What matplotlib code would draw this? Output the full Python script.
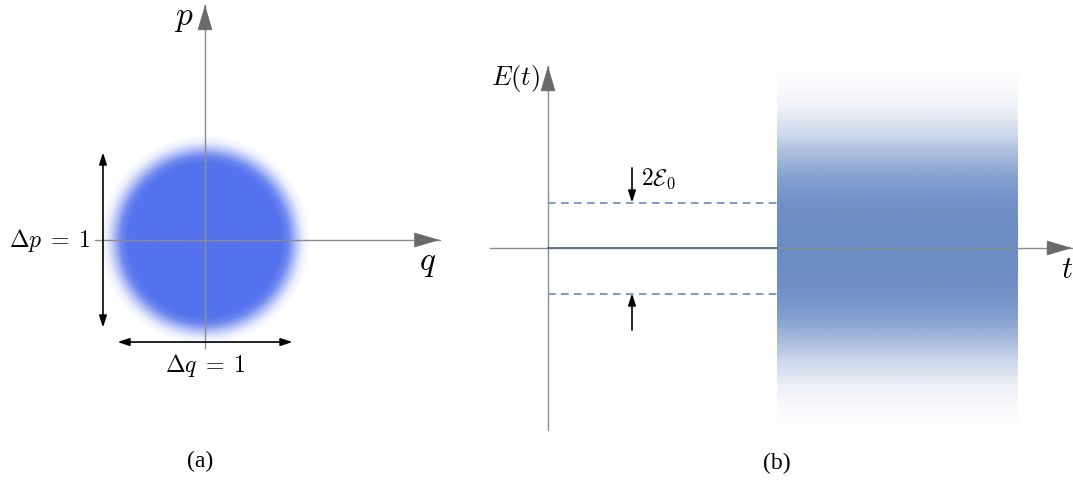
import numpy as np
import matplotlib.pyplot as plt
from matplotlib.patches import FancyArrowPatch
from matplotlib.colors import to_rgb

plt.rcParams['mathtext.fontset'] = 'cm'

# (a) coherent state blob, lengths in units of delta q = 1
delta_q = 1.0
delta_p = 1.0
disk_radius = [0.0, 0.44, 0.48, 0.52, 0.56, 0.60]
disk_alpha = [1.0, 1.0, 0.85, 0.45, 0.12, 0.0]

# (b) energy vs time, energies in units of E0
e0 = 1.0
t_quiet = [0.0, 2.29]
t_noise = [2.29, 4.70]
noise_E = [-4.0, -3.5, -3.0, -2.5, -2.0, -1.5, -1.0, -0.5, 0.0,
           0.5, 1.0, 1.5, 2.0, 2.5, 3.0, 3.5, 4.0]
noise_density = [0.0, 0.04, 0.12, 0.30, 0.55, 0.76, 0.86, 0.89, 0.90,
                 0.89, 0.86, 0.76, 0.55, 0.30, 0.12, 0.04, 0.0]

axis_grey = '#8c8c8c'
head_grey = '#6a6a6a'
blob_blue = '#5573ee'
dot_blue = '#5a7fbd'


def axis_arrow(ax, start, tip, back):
    ax.plot([start[0], tip[0]], [start[1], tip[1]], color=axis_grey, lw=1.0, zorder=3)
    ax.add_patch(FancyArrowPatch(back, tip, arrowstyle='-|>,head_length=17,head_width=5',
                                 mutation_scale=1, color=head_grey, lw=0.5,
                                 shrinkA=0, shrinkB=0, zorder=4))


def both_arrow(ax, a, b):
    ax.add_patch(FancyArrowPatch(a, b, arrowstyle='<|-|>,head_length=7,head_width=2.3',
                                 mutation_scale=1, color='black', lw=1.2,
                                 shrinkA=0, shrinkB=0, zorder=4))


def one_arrow(ax, a, b):
    ax.add_patch(FancyArrowPatch(a, b, arrowstyle='-|>,head_length=7,head_width=2.3',
                                 mutation_scale=1, color='black', lw=1.2,
                                 shrinkA=0, shrinkB=0, zorder=4))


fig = plt.figure(figsize=(10.73, 4.82), dpi=100)
ax_a = fig.add_axes([0, 0, 450 / 1073, 1])
ax_b = fig.add_axes([450 / 1073, 0, 623 / 1073, 1])

# ---- (a)
ax_a.set_xlim(-205 / 175, 245 / 175)
ax_a.set_ylim(-242 / 175, 240 / 175)
ax_a.axis('off')

g = np.linspace(-0.65, 0.65, 400)
qq, pp = np.meshgrid(g, g)
img = np.zeros(qq.shape + (4,))
img[..., :3] = to_rgb(blob_blue)
img[..., 3] = np.interp(np.hypot(qq, pp), disk_radius, disk_alpha)
ax_a.imshow(img, extent=(-0.65, 0.65, -0.65, 0.65), origin='lower',
            interpolation='bilinear', zorder=1)

axis_arrow(ax_a, (-0.63, 0), (1.34, 0), (1.20, 0))
axis_arrow(ax_a, (0, -0.617), (0, 1.343), (0, 1.20))
both_arrow(ax_a, (-0.583, -delta_p / 2), (-0.583, delta_p / 2))
both_arrow(ax_a, (-delta_q / 2, -0.583), (delta_q / 2, -0.583))

ax_a.text(-0.655, 0, r'$\Delta p\;=\;1$', ha='right', va='center', fontsize=17)
ax_a.text(0, -0.718, r'$\Delta q\;=\;1$', ha='center', va='center', fontsize=17)
ax_a.text(-0.12, 1.27, r'$p$', ha='center', va='center', fontsize=24)
ax_a.text(1.27, -0.13, r'$q$', ha='center', va='center', fontsize=24)
ax_a.text(-0.03, -1.268, '(a)', ha='center', va='center', fontsize=17,
          family='Liberation Serif')

# ---- (b)
ax_b.set_xlim(-0.98, 5.25)
ax_b.set_ylim(-234 / 45.5, 248 / 45.5)
ax_b.axis('off')

col = np.zeros((len(noise_E), 1, 4))
col[..., :3] = to_rgb(dot_blue)
col[:, 0, 3] = noise_density
ax_b.imshow(col, extent=(t_noise[0], t_noise[1], noise_E[0] - 0.25, noise_E[-1] + 0.25),
            origin='lower', aspect='auto', interpolation='bilinear', zorder=1)

axis_arrow(ax_b, (-0.58, 0), (5.24, 0), (4.99, 0))
axis_arrow(ax_b, (0, -4.0), (0, 4.0), (0, 3.45))

ax_b.plot(t_quiet, [0, 0], color='#566c90', lw=1.3, zorder=5)
for lvl in (e0, -e0):
    ax_b.plot(t_quiet, [lvl, lvl], color=dot_blue, lw=1.1, ls=(0, (5, 3.5)), zorder=2)

one_arrow(ax_b, (0.84, 1.76), (0.84, e0))
one_arrow(ax_b, (0.84, -1.80), (0.84, -e0))

ax_b.text(0.93, 1.52, r'$2\mathcal{E}_0$', ha='left', va='center', fontsize=17)
ax_b.text(-0.08, 3.72, r'$E(t)$', ha='right', va='center', fontsize=19)
ax_b.text(5.19, -0.48, r'$t$', ha='center', va='center', fontsize=22)
ax_b.text(2.29, -4.73, '(b)', ha='center', va='center', fontsize=17,
          family='Liberation Serif')

fig.savefig('out.png', dpi=100)
